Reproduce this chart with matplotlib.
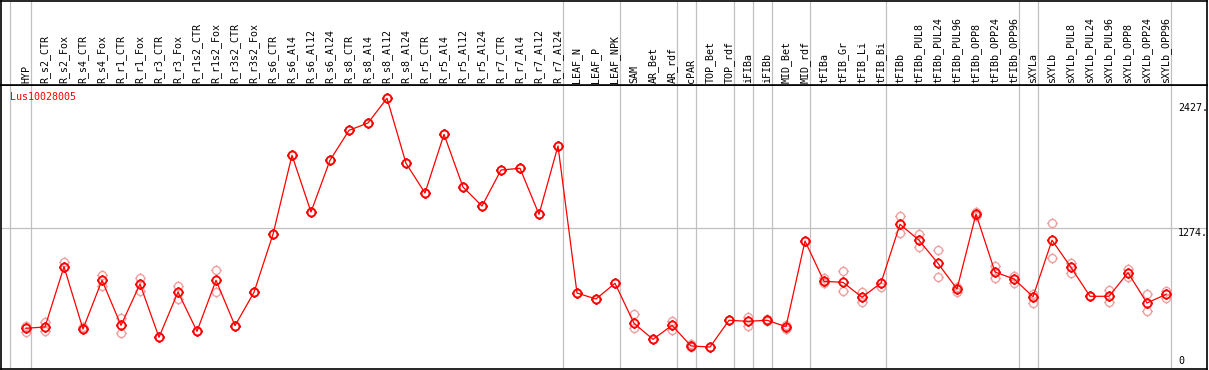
import numpy as np
import matplotlib
matplotlib.use("Agg")
import matplotlib.pyplot as plt
from matplotlib.path import Path

gene = "Lus10028005"

labels = ["HYP", "R_s2_CTR", "R_s2_Fox", "R_s4_CTR", "R_s4_Fox", "R_r1_CTR", "R_r1_Fox",
          "R_r3_CTR", "R_r3_Fox", "R_r1s2_CTR", "R_r1s2_Fox", "R_r3s2_CTR", "R_r3s2_Fox",
          "R_s6_CTR", "R_s6_Al4", "R_s6_Al12", "R_s6_Al24", "R_s8_CTR", "R_s8_Al4",
          "R_s8_Al12", "R_s8_Al24", "R_r5_CTR", "R_r5_Al4", "R_r5_Al12", "R_r5_Al24",
          "R_r7_CTR", "R_r7_Al4", "R_r7_Al12", "R_r7_Al24", "LEAF_N", "LEAF_P", "LEAF_NPK",
          "SAM", "AR_Bet", "AR_rdf", "cPAR", "TOP_Bet", "TOP_rdf", "iFIBa", "iFIBb",
          "MID_Bet", "MID_rdf", "tFIBa", "tFIB_Gr", "tFIB_Li", "tFIB_Bi", "tFIBb",
          "tFIBb_PUL8", "tFIBb_PUL24", "tFIBb_PUL96", "tFIBb_OPP8", "tFIBb_OPP24",
          "tFIBb_OPP96", "sXYLa", "sXYLb", "sXYLb_PUL8", "sXYLb_PUL24", "sXYLb_PUL96",
          "sXYLb_OPP8", "sXYLb_OPP24", "sXYLb_OPP96"]

group_sizes = [1, 28, 3, 3, 1, 2, 1, 1, 2, 4, 7, 1, 7]

mean_vals = [348, 360, 916, 341, 791, 375, 756, 265, 683, 320, 791, 372, 680,
             1215, 1944, 1421, 1898, 2174, 2242, 2470, 1870, 1596, 2137, 1651, 1476,
             1808, 1824, 1399, 2030, 673, 618, 763,
             394, 246, 375, 185, 175, 422, 412, 422, 363, 1153,
             781, 772, 634, 766, 1307, 1160, 947, 710, 1402, 867, 803,
             639, 1160, 910, 643, 643, 861, 581, 661]

rep_a = [369, 403, 959, 360, 839, 440, 809, 265, 738, 320, 883, 372, 680,
         1215, 1944, 1421, 1898, 2174, 2242, 2470, 1870, 1596, 2137, 1651, 1476,
         1808, 1824, 1399, 2030, 673, 618, 763,
         477, 246, 418, 203, 175, 422, 455, 431, 381, 1153,
         815, 876, 683, 766, 1384, 1215, 1067, 732, 1423, 920, 833,
         661, 1316, 953, 643, 701, 895, 661, 692]

rep_b = [314, 323, 916, 341, 741, 302, 695, 265, 618, 320, 685, 372, 680,
         1215, 1944, 1421, 1898, 2174, 2242, 2470, 1870, 1596, 2137, 1651, 1476,
         1808, 1824, 1399, 2030, 673, 618, 763,
         348, 246, 332, 178, 175, 422, 369, 415, 339, 1153,
         763, 692, 593, 732, 1224, 1095, 818, 680, 1384, 812, 763,
         584, 994, 861, 643, 588, 824, 505, 625]

ytick_vals = [2427, 1274, 0]

W, H = 1209, 370
fig = plt.figure(figsize=(W / 100, H / 100), dpi=100)

mono = "DejaVu Sans Mono"
grey = "#c0c0c0"
red = "#ff0000"
pale = "#f0a0a0"

# axes layout (in pixels)
px_left, px_right = 1, 1207
px_top_plot, px_bottom = 85, 369
ax = fig.add_axes([px_left / W, (H - px_bottom) / H, (px_right - px_left) / W,
                   (px_bottom - px_top_plot) / H])
hx = fig.add_axes([px_left / W, (H - px_top_plot) / H, (px_right - px_left) / W,
                   (px_top_plot - 0.6) / H], sharex=ax)

x = np.arange(len(labels))
step = 19.0
x0 = 26.0
ax.set_xlim((px_left - x0) / step, (px_right - x0) / step)
upp = 9.225  # data units per pixel
ax.set_ylim((366 - px_bottom) * upp, (366 - px_top_plot) * upp)
hx.set_ylim(0, 1)

for a in (ax, hx):
    a.set_xticks([])
    a.set_yticks([])
    for s in a.spines.values():
        s.set_color("black")
        s.set_linewidth(1.2)
    a.set_facecolor("white")

# group separators
bounds = np.cumsum(group_sizes) - 1 + 0.25
seps = [-0.84] + list(bounds)
for a in (ax, hx):
    for b in seps:
        a.axvline(b, color=grey, lw=0.9, zorder=0)

# horizontal grid at middle tick
ax.axhline(ytick_vals[1], color=grey, lw=0.9, zorder=0)

# marker: circle with small ticks
circ = Path.unit_circle()
ticks = []
for (dx, dy) in [(1, 0), (-1, 0), (0, 1), (0, -1)]:
    ticks.append(Path([(dx * 1.0, dy * 1.0), (dx * 1.35, dy * 1.35)],
                      [Path.MOVETO, Path.LINETO]))
sun = Path.make_compound_path(circ, *ticks)

ax.plot(x, rep_a, linestyle="none", marker=sun, ms=7.8, mfc="none", mec=pale, mew=1.0, zorder=2)
ax.plot(x, rep_b, linestyle="none", marker=sun, ms=7.8, mfc="none", mec=pale, mew=1.0, zorder=2)
ax.plot(x, mean_vals, color=red, lw=0.9, marker=sun, ms=7.8, mfc="none", mec=red, mew=1.3, zorder=3)

# y labels at right
for v in ytick_vals:
    ax.text((1178 - x0) / step, v, f"{v}." if v else "0", fontsize=7.2, family=mono,
            va="top" if v else "bottom", ha="left", color="black")

# gene name
ax.text((10 - x0) / step, (366 - 97) * upp, gene, color=red, fontsize=7.2, family=mono,
        ha="left", va="center")

# header labels
for i, lab in enumerate(labels):
    hx.text(i, 0.025, lab, rotation=90, fontsize=7.2, family=mono,
            ha="center", va="bottom", color="black")

fig.savefig("out.png", dpi=100)
